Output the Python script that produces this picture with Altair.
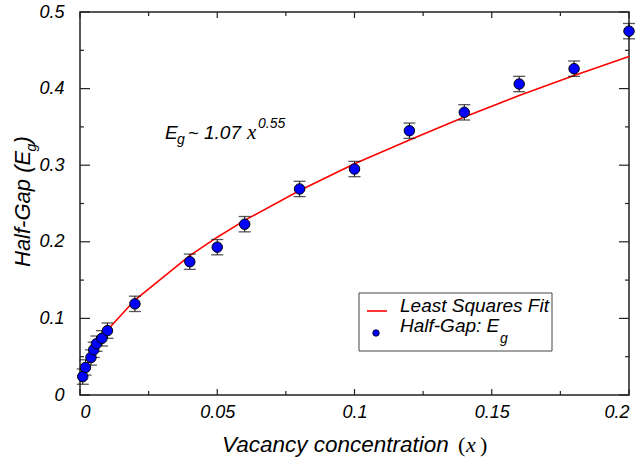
import altair as alt
import pandas as pd

# ---- data ----
conc = [0.001, 0.002, 0.004, 0.005, 0.006, 0.008, 0.01, 0.02, 0.04, 0.05,
        0.06, 0.08, 0.1, 0.12, 0.14, 0.16, 0.18, 0.2]
half_gap = [0.024, 0.036, 0.049, 0.059, 0.067, 0.074, 0.084, 0.119, 0.174, 0.193,
            0.223, 0.269, 0.295, 0.345, 0.369, 0.406, 0.426, 0.475]
err = [0.01] * len(conc)
fit_vals = [0.024, 0.035, 0.051, 0.058, 0.064, 0.075, 0.085, 0.124, 0.182, 0.206,
            0.228, 0.267, 0.302, 0.333, 0.363, 0.391, 0.417, 0.442]

x_major = [0, 0.05, 0.1, 0.15, 0.2]
x_minor = [0.025, 0.075, 0.125, 0.175]
y_major = [0, 0.1, 0.2, 0.3, 0.4, 0.5]
y_minor = [0.05, 0.15, 0.25, 0.35, 0.45]

W, H = 549, 383
SANS = "Liberation Sans"
SERIF = "Liberation Serif"

df = pd.DataFrame({"x": conc, "y": half_gap, "fit": fit_vals,
                   "lo": [v - e for v, e in zip(half_gap, err)],
                   "hi": [v + e for v, e in zip(half_gap, err)]})

xs = alt.Scale(domain=[0, 0.2], nice=False)
ys = alt.Scale(domain=[0, 0.5], nice=False)

xaxis = alt.Axis(values=x_major, format="~g", title=None, grid=False, domain=False,
                 ticks=False, labelFont=SANS, labelFontStyle="italic", labelFontSize=18,
                 labelColor="black", labelPadding=8)
yaxis = alt.Axis(values=y_major, format="~g", title=None, grid=False, domain=False,
                 ticks=False, labelFont=SANS, labelFontStyle="italic", labelFontSize=18,
                 labelColor="black", labelPadding=16)

base = alt.Chart(df)

fit_line = base.mark_line(color="#ff0000", strokeWidth=1.6).encode(
    x=alt.X("x:Q", scale=xs, axis=xaxis),
    y=alt.Y("fit:Q", scale=ys, axis=yaxis),
)
err_rule = base.mark_rule(color="#111", strokeWidth=1).encode(
    x=alt.X("x:Q", scale=xs), y=alt.Y("lo:Q", scale=ys), y2="hi:Q")
cap_lo = base.mark_tick(orient="horizontal", size=12, thickness=1.3, color="#111").encode(
    x=alt.X("x:Q", scale=xs), y=alt.Y("lo:Q", scale=ys))
cap_hi = base.mark_tick(orient="horizontal", size=12, thickness=1.3, color="#111").encode(
    x=alt.X("x:Q", scale=xs), y=alt.Y("hi:Q", scale=ys))
pts = base.mark_circle(size=110, fill="#0000ff", stroke="black", strokeWidth=1, opacity=1).encode(
    x=alt.X("x:Q", scale=xs), y=alt.Y("y:Q", scale=ys))

# inward ticks
def xticks(vals, length):
    d = pd.DataFrame({"v": vals})
    bot = alt.Chart(d).mark_rule(color="#222", strokeWidth=1.2).encode(
        x=alt.X("v:Q", scale=xs), y=alt.value(H), y2=alt.value(H - length))
    top = alt.Chart(d).mark_rule(color="#222", strokeWidth=1.2).encode(
        x=alt.X("v:Q", scale=xs), y=alt.value(0), y2=alt.value(length))
    return [bot, top]

def yticks(vals, length):
    d = pd.DataFrame({"v": vals})
    left = alt.Chart(d).mark_rule(color="#222", strokeWidth=1.2).encode(
        y=alt.Y("v:Q", scale=ys), x=alt.value(0), x2=alt.value(length))
    right = alt.Chart(d).mark_rule(color="#222", strokeWidth=1.2).encode(
        y=alt.Y("v:Q", scale=ys), x=alt.value(W), x2=alt.value(W - length))
    return [left, right]

tick_layers = xticks(x_major, 6) + xticks(x_minor, 4) + yticks(y_major, 10) + yticks(y_minor, 4)

one = pd.DataFrame({"d": [0]})

def txt(s, x, y, size, font=SANS, style="italic", angle=0, align="left", baseline="alphabetic"):
    return alt.Chart(one).mark_text(text=s, font=font, fontStyle=style, fontSize=size,
                                    angle=angle, align=align, baseline=baseline,
                                    color="black").encode(x=alt.value(x), y=alt.value(y))

texts = [
    # annotation
    txt("E", 85, 127, 19),
    txt("g", 97, 132, 14),
    txt("~", 108, 127, 18),
    txt("1.07", 124, 127, 19),
    txt("x", 167, 127, 21, font=SERIF),
    txt("0.55", 178, 116, 14),
    # x title
    txt("Vacancy concentration", 142, 440, 22.5),
    txt("(", 378, 440, 22, font=SERIF, style="normal"),
    txt("x", 386, 440, 22, font=SERIF),
    txt(")", 400, 440, 22, font=SERIF, style="normal"),
    # y title (rotated)
    txt("Half-Gap (E", -50, 255, 22, angle=270),
    txt("g", -44, 139.5, 14, angle=270),
    txt(")", -50, 131.5, 22, angle=270),
]

# legend
legend_box = alt.Chart(one).mark_rect(fill="white", stroke="#444", strokeWidth=1).encode(
    x=alt.value(279), x2=alt.value(472), y=alt.value(281), y2=alt.value(339))
legend_line = alt.Chart(one).mark_rule(color="#ff0000", strokeWidth=1.6).encode(
    x=alt.value(287), x2=alt.value(307), y=alt.value(299))
legend_dot = alt.Chart(one).mark_circle(size=42, fill="#0000ff", stroke="black",
                                        strokeWidth=0.8, opacity=1).encode(
    x=alt.value(296), y=alt.value(321))
legend_texts = [
    txt("Least Squares Fit", 320, 300, 19),
    txt("Half-Gap: E", 320, 320, 19),
    txt("g", 420, 331, 14),
]

chart = alt.layer(
    fit_line, err_rule, cap_lo, cap_hi, pts, *tick_layers, *texts,
    legend_box, legend_line, legend_dot, *legend_texts,
).properties(
    width=W, height=H, autosize="none",
    padding={"left": 80, "top": 12, "right": 15, "bottom": 69},
).configure_view(stroke="#222", strokeWidth=1.5)

chart.save("out.html", embed_options={"renderer": "svg", "actions": False})
